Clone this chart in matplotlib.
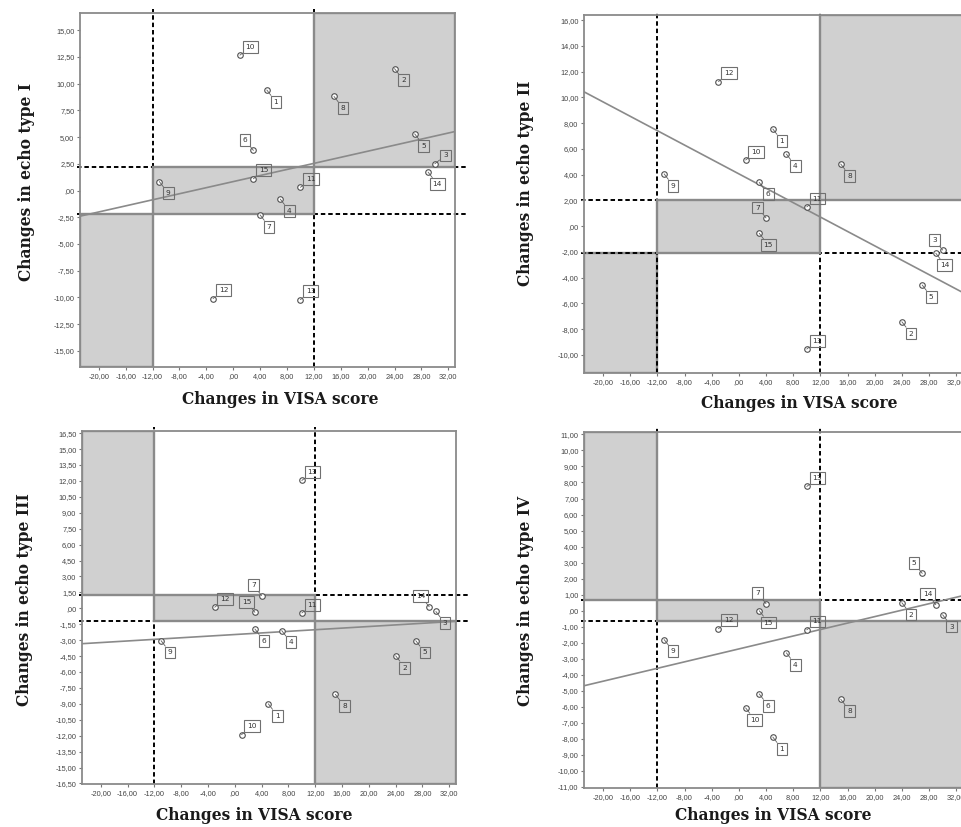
import numpy as np
import matplotlib
matplotlib.use("Agg")
import matplotlib.pyplot as plt
from matplotlib.patches import Rectangle
from matplotlib.ticker import FuncFormatter, MultipleLocator

W, H = 962, 827

patients = list(range(1, 16))

# change in VISA score per patient (same for all four panels)
visa_change = [5, 24, 30, 7, 27, 3, 4, 15, -11, 1, 10, -3, 10, 29, 3]

# change in echo type I..IV per patient
echo_I = [9.4, 11.4, 2.5, -0.8, 5.3, 3.75, -2.28, 8.8, 0.84, 12.66, 0.3, -10.1, -10.2, 1.72, 1.1]
echo_II = [7.55, -7.42, -1.85, 5.6, -4.57, 3.4, 0.64, 4.83, 4.06, 5.14, 1.5, 11.23, -9.54, -2.1, -0.55]
echo_III = [-9.0, -4.47, -0.3, -2.1, -3.05, -1.95, 1.2, -8.1, -3.05, -11.9, -0.44, 0.1, 12.04, 0.15, -0.38]
echo_IV = [-7.88, 0.5, -0.25, -2.63, 2.33, -5.19, 0.44, -5.52, -1.8, -6.06, -1.19, -1.12, 7.75, 0.38, 0.0]

echo_types = ["I", "II", "III", "IV"]
echo_values = [echo_I, echo_II, echo_III, echo_IV]

# clinically relevant limits: VISA +-12, echo +-threshold
visa_limit = 12
echo_limit = [2.2, 2.07, 1.22, 0.67]

x_range = (-22.8, 33.0)
y_ranges = [(-16.5, 16.6), (-11.4, 16.4), (-16.55, 16.7), (-11.06, 11.15)]
y_steps = [2.5, 2.0, 1.5, 1.0]
x_step = 4

# ---- layout / style (pixels of the 962x827 picture) ----
axes_px = [(80, 13, 455, 367), (584, 15, 963, 373),
           (82, 431, 456, 784), (584, 432, 963, 788)]
xlabel_px = [(280, 400), (799, 403), (254, 816), (773, 816)]
ylabel_px = [(27, 182), (526, 183), (25, 600), (526, 601)]
shading = ["A", "A", "B", "B"]
dash_on_top = [[], ["BL"], [], []]

# where the number box sits relative to its point
label_pos = [
    "lr lr ur lr lr ul lr lr lr ur ur ur ur lr ur".split(),
    "lr lr ul lr lr lr ul lr lr ur ur ur ur lr lr".split(),
    "lr lr lr lr lr lr ul lr lr ur ur ur ur ul ul".split(),
    "lr lr lr lr ul lr ul lr lr lr ur ur ur ul lr".split(),
]
offsets = {"ur": (7.5, 6), "lr": (6.5, -8.5), "ul": (-6, 7.5)}

GREY_FILL = "#d0d0d0"
GREY_EDGE = "#8a8a8a"
label_font = dict(family="DejaVu Serif", weight="bold", size=11.2, color="#1a1a1a")


def fmt(v, pos):
    s = f"{v:.2f}".replace(".", ",")
    if s.startswith("0,"):
        s = s[1:]
    if s.startswith("-0,"):
        s = "-" + s[2:]
    if s == "-,00":
        s = ",00"
    return s


def regions(kind, thr, xl, yl):
    # returns name -> (x0, y0, w, h)
    c = (-visa_limit, -thr, 2 * visa_limit, 2 * thr)
    if kind == "A":
        r1 = ("TR", (visa_limit, thr, xl[1] - visa_limit, yl[1] - thr))
        r2 = ("BL", (xl[0], yl[0], -visa_limit - xl[0], -thr - yl[0]))
    else:
        r1 = ("TL", (xl[0], thr, -visa_limit - xl[0], yl[1] - thr))
        r2 = ("BR", (visa_limit, yl[0], xl[1] - visa_limit, -thr - yl[0]))
    return [("C", c), r1, r2]


fig = plt.figure(figsize=(W / 100, H / 100), dpi=100)

for i in range(4):
    l, t, r, b = axes_px[i]
    ax = fig.add_axes([l / W, 1 - b / H, (r - l) / W, (b - t) / H])
    xl, yl = x_range, y_ranges[i]
    thr = echo_limit[i]
    ax.set_xlim(xl)
    ax.set_ylim(yl)

    # shaded quadrants
    for name, (x0, y0, w, h) in regions(shading[i], thr, xl, yl):
        z = 1.0 if name in dash_on_top[i] else 2.0
        ax.add_patch(Rectangle((x0, y0), w, h, facecolor=GREY_FILL,
                               edgecolor=GREY_EDGE, lw=1.7, zorder=z))

    # dashed limit lines, a little past the frame
    dash = dict(color="black", lw=1.4, ls=(0, (2.3, 1.5)), clip_on=False, zorder=1.5)
    for xv in (-visa_limit, visa_limit):
        ax.plot([xv, xv], [0, 1.01], transform=ax.get_xaxis_transform(), **dash)
    for yv in (-thr, thr):
        ax.plot([-0.008, 1.032], [yv, yv], transform=ax.get_yaxis_transform(), **dash)

    # linear fit
    x = np.array(visa_change, dtype=float)
    y = np.array(echo_values[i], dtype=float)
    k, c0 = np.polyfit(x, y, 1)
    xx = np.array(xl)
    ax.plot(xx, k * xx + c0, color="#8a8a8a", lw=1.2, zorder=3)

    ax.scatter(x, y, s=16, facecolors="white", edgecolors="#505050",
               linewidths=0.8, zorder=4)

    for j, pid in enumerate(patients):
        dx, dy = offsets[label_pos[i][j]]
        ax.annotate(str(pid), (x[j], y[j]), xytext=(dx, dy), textcoords="offset points",
                    ha="center", va="center", fontsize=5.3, color="#333333",
                    family="DejaVu Sans",
                    bbox=dict(boxstyle="square,pad=0.4", fc="none", ec="#707070", lw=0.8),
                    arrowprops=dict(arrowstyle="-", color="#606060", lw=0.6,
                                    shrinkA=0, shrinkB=0),
                    zorder=5)

    ax.xaxis.set_major_locator(MultipleLocator(x_step))
    ax.yaxis.set_major_locator(MultipleLocator(y_steps[i]))
    ax.xaxis.set_major_formatter(FuncFormatter(fmt))
    ax.yaxis.set_major_formatter(FuncFormatter(fmt))
    ax.tick_params(direction="out", length=2.5, width=0.8, color="#777777",
                   labelsize=5.3, labelcolor="#444444", pad=1.5)
    for lab in ax.get_xticklabels() + ax.get_yticklabels():
        lab.set_family("Liberation Sans")
    for sp in ax.spines.values():
        sp.set_color(GREY_EDGE)
        sp.set_linewidth(1.3)
        sp.set_zorder(2.5)

    fx, fy = xlabel_px[i]
    fig.text(fx / W, 1 - fy / H, "Changes in VISA score", ha="center", va="center", **label_font)
    fx, fy = ylabel_px[i]
    fig.text(fx / W, 1 - fy / H, "Changes in echo type " + echo_types[i], ha="center",
             va="center", rotation=90, **label_font)

fig.savefig("out.png", dpi=100)
